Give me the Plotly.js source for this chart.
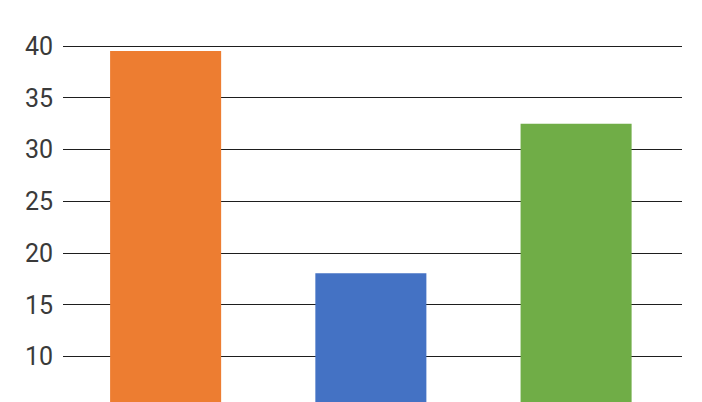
<!DOCTYPE html>
<html>
<head>
<meta charset="utf-8">
<script src="https://cdn.plot.ly/plotly-3.0.1.min.js"></script>
<style>
  html, body { margin: 0; padding: 0; background: #fff; }
  #plot { width: 702px; height: 402px; }
</style>
</head>
<body>
<div id="plot"></div>
<script>
var categories = ["A", "B", "C"];
var values = [39.55, 18.07, 32.5];
var barColors = ["#ED7D31", "#4472C4", "#70AD47"];
var yTicks = [10, 15, 20, 25, 30, 35, 40];

var traceBars = {
  x: categories,
  y: values,
  type: "bar",
  marker: { color: barColors },
  hoverinfo: "none"
};

var layout = {
  width: 702,
  height: 402,
  margin: { l: 63, r: 20, t: 0, b: 0 },
  paper_bgcolor: "#fff",
  plot_bgcolor: "#fff",
  showlegend: false,
  bargap: 0.459,
  font: { family: "Roboto, sans-serif", size: 25, color: "#3a3a3a" },
  xaxis: {
    range: [-0.5, 2.516],
    showticklabels: false,
    showgrid: false,
    zeroline: false,
    showline: false,
    ticks: ""
  },
  yaxis: {
    range: [5.62, 44.47],
    tickvals: yTicks,
    ticktext: yTicks.map(String),
    showgrid: true,
    gridcolor: "#1e1e1e",
    gridwidth: 1,
    zeroline: false,
    showline: false,
    ticks: "",
    ticklabelstandoff: 9
  }
};

Plotly.newPlot("plot", [traceBars], layout, { displayModeBar: false, staticPlot: true });
</script>
</body>
</html>
